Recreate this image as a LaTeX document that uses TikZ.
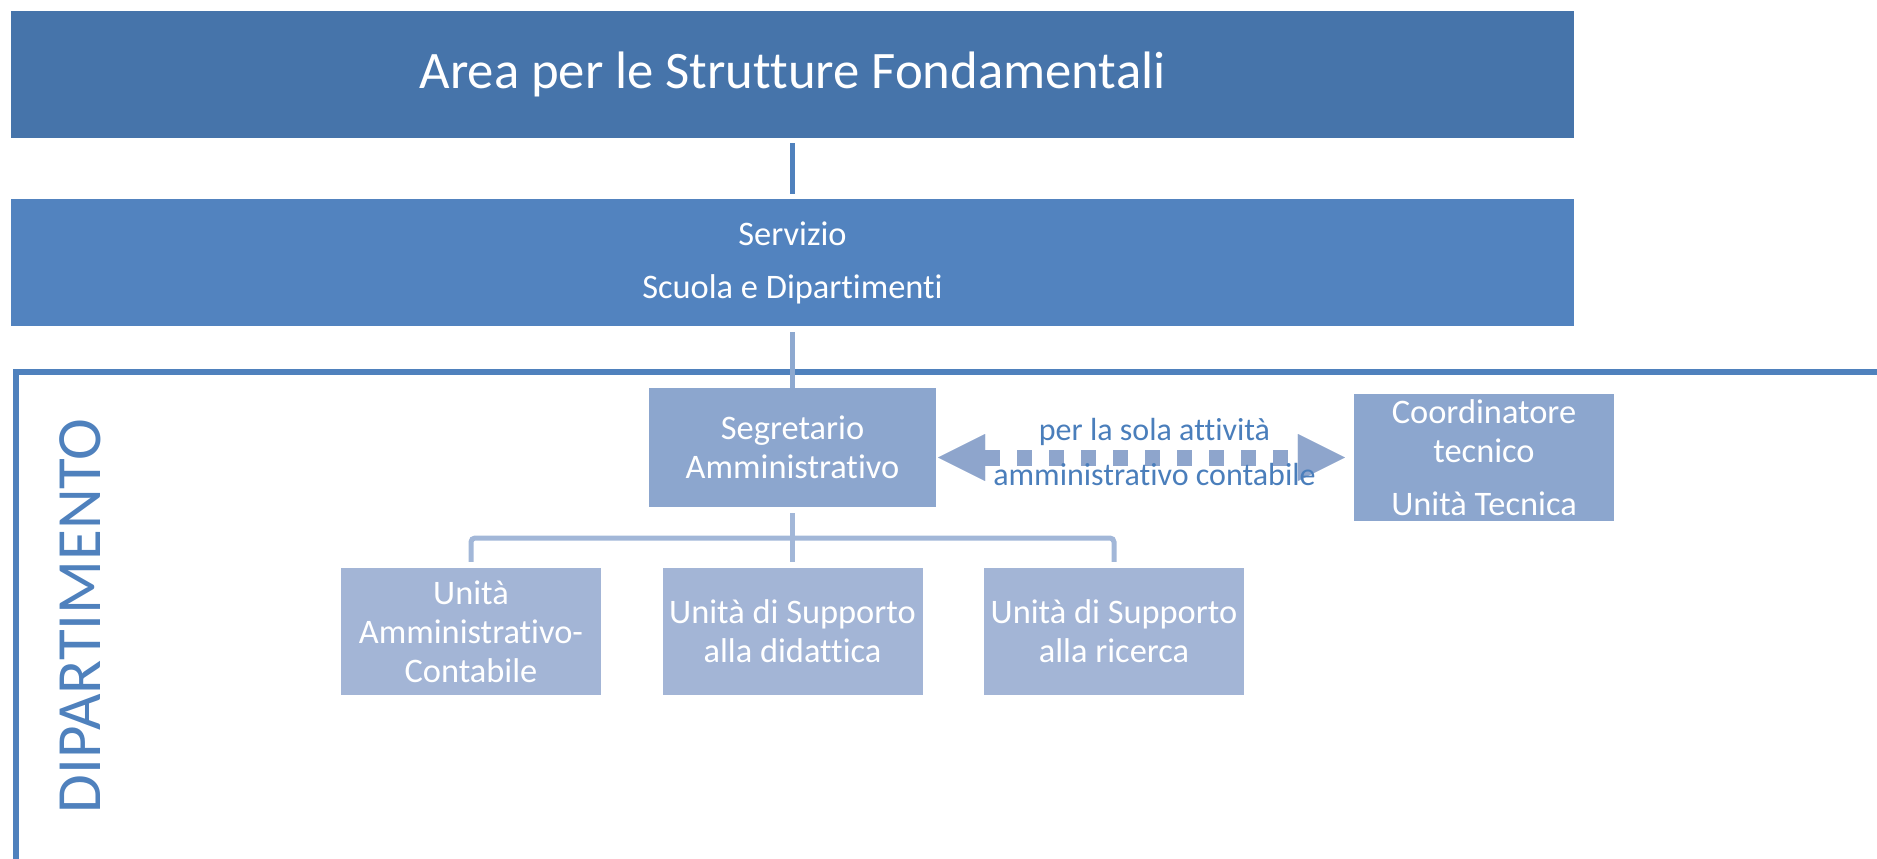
\documentclass[tikz,border=0pt]{standalone}
\usepackage{fontspec}
\setmainfont[Ligatures={NoCommon,NoRequired}]{Carlito}
\usepackage{tikz}
\usetikzlibrary{arrows.meta}
\definecolor{areablue}{HTML}{4674AA}
\definecolor{servblue}{HTML}{5283BF}
\definecolor{segrblue}{HTML}{8CA6CE}
\definecolor{unitblue}{HTML}{A3B5D6}
\definecolor{frameblue}{HTML}{4F81BD}
\definecolor{paleblue}{HTML}{8EA9D0}
\definecolor{treeblue}{HTML}{A2B7D8}
\definecolor{arrowblue}{HTML}{8EA5CC}
\definecolor{textblue}{HTML}{4A7EBB}

\begin{document}
\begin{tikzpicture}[x=1pt, y=-1pt,
    box/.style={shape=rectangle, fill=#1, text=white, inner sep=0pt, align=center, font=\fontsize{34.4}{39}\selectfont},
    wide/.style={minimum width=1563pt, minimum height=127pt},
    unit/.style={box=unitblue, minimum width=260pt, minimum height=127pt},
    link/.style={draw=#1, line width=5pt},
    biarrow/.style={draw=arrowblue, line width=16pt, dash pattern=on 15pt off 17pt,
        {Triangle[length=47pt, width=47pt, line width=0.01pt]}-{Triangle[length=47pt, width=47pt, line width=0.01pt]}},
    arrowtext/.style={text=textblue, align=center, inner sep=0pt, font=\fontsize{32}{45}\selectfont}]
    \useasboundingbox (0,0) rectangle (1877,859);
    \node[box=areablue, wide, font=\fontsize{52.7}{60}\selectfont] at (792.5,74.5) (Area) {Area per le Strutture Fondamentali};
    \node[box=servblue, wide, font=\fontsize{34.4}{53}\selectfont] at (792.5,262.5) (Serv) {Servizio\\Scuola e Dipartimenti};
    \node[box=segrblue, minimum width=287pt, minimum height=119pt] at (792.5,447.5) (Segr) {Segretario\\Amministrativo};
    \node[box=segrblue, minimum width=260pt, minimum height=127pt] at (1484,457.5) (Coord) {Coordinatore\\tecnico\\[14pt]Unità Tecnica};
    \node[unit] at (471,631.5) (U1) {Unità\\Amministrativo-\\Contabile};
    \node[unit] at (792.5,631.5) (U2) {Unità di Supporto\\alla didattica};
    \node[unit] at (1114,631.5) (U3) {Unità di Supporto\\alla ricerca};
    \node[rotate=90, inner sep=0pt, text=frameblue, font=\fontsize{63}{70}\selectfont] at (80,616) (Dept) {DIPARTIMENTO};
    \draw[draw=frameblue, line width=6pt] (16,859) -- (16,371.5) -- (1877,371.5);
    \coordinate (Bar) at (792.5,538);
    \path [link=frameblue, shorten <=5pt, shorten >=5pt] (Area) edge (Serv);
    \path [link=paleblue, shorten <=6pt] (Serv) edge (Segr);
    \path [link=treeblue, shorten <=6pt] (Segr) edge (Bar);
    \draw [link=treeblue, rounded corners=4pt, shorten <=6pt, shorten >=6pt] (U1.north) |- (Bar) -| (U3.north);
    \path [link=treeblue, shorten >=6pt] (Bar) edge (U2);
    \draw [biarrow, shorten <=2pt, shorten >=9pt] (Segr.east |- Coord) -- node[arrowtext, xshift=9.5pt, yshift=5pt] {per la sola attività\\amministrativo contabile} (Coord.west);
\end{tikzpicture}
\end{document}
